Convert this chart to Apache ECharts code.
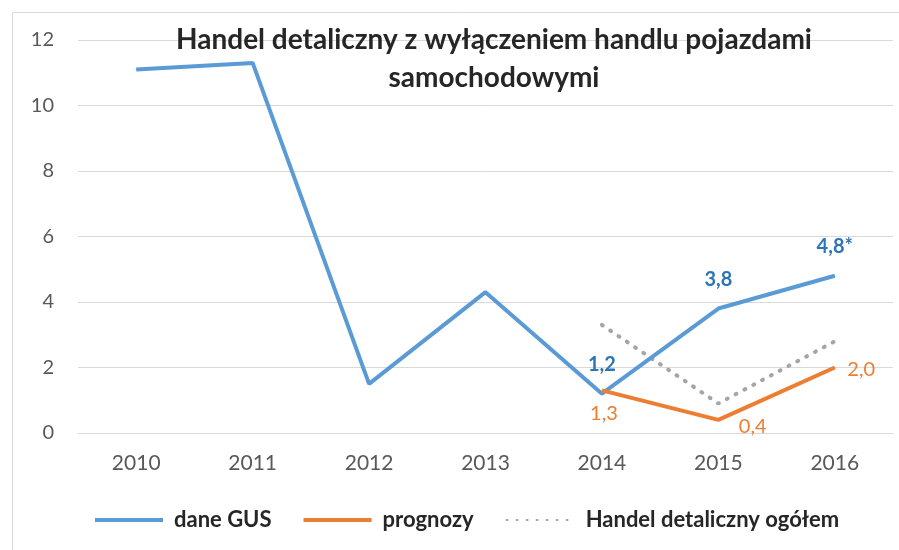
<!DOCTYPE html>
<html>
<head>
<meta charset="utf-8">
<script src="https://cdn.jsdelivr.net/npm/echarts@6/dist/echarts.min.js"></script>
<style>
  html, body { margin: 0; padding: 0; background: #fff; }
  #main { width: 899px; height: 550px; }
</style>
</head>
<body>
<div id="main"></div>
<script>
var years = ['2010', '2011', '2012', '2013', '2014', '2015', '2016'];
var daneGUS = [11.1, 11.3, 1.5, 4.3, 1.2, 3.8, 4.8];
var prognozy = [null, null, null, null, 1.3, 0.4, 2.0];
var ogolem = [null, null, null, null, 3.3, 0.9, 2.8];
// which blue points carry a label (and the asterisk on the last one)
var gusLabels = [null, null, null, null, '1,2', '3,8', '4,8*'];

var font = 'Lato, "Open Sans", sans-serif';

function fmt(v) {
    return v.toFixed(1).replace('.', ',');
}

var gusData = daneGUS.map(function (v, i) {
    if (!gusLabels[i]) return v;
    return {
        value: v,
        label: { show: true, position: 'top', distance: 19, formatter: gusLabels[i] }
    };
});

// label placement for the forecast points
var progPos = [null, null, null, null, ['bottom', 13, [2, 0]], ['right', 20, [0, 7]], ['right', 12, [0, 2]]];
var progData = prognozy.map(function (v, i) {
    if (v == null) return v;
    return {
        value: v,
        label: { show: true, position: progPos[i][0], distance: progPos[i][1], offset: progPos[i][2], formatter: fmt(v) }
    };
});

var myChart = echarts.init(document.getElementById('main'));
var option = {
    animation: false,
    textStyle: { fontFamily: font },
    title: {
        text: 'Handel detaliczny z wyłączeniem handlu pojazdami\nsamochodowymi',
        left: 489,
        textAlign: 'center',
        top: 16,
        textStyle: { fontFamily: font, fontSize: 28, fontWeight: 'bold', color: '#262626', lineHeight: 38 }
    },
    graphic: [{
        type: 'rect',
        shape: { x: 12.5, y: 12.5, width: 900, height: 560 },
        style: { fill: 'none', stroke: '#d9d9d9', lineWidth: 1 },
        silent: true
    }],
    legend: {
        top: 504,
        left: 90,
        itemWidth: 68,
        itemHeight: 4,
        itemGap: 32,
        textStyle: { fontFamily: font, fontSize: 22, fontWeight: 'bold', color: '#262626', padding: [0, 0, 0, 6] },
        data: [
            { name: 'dane GUS', icon: 'rect' },
            { name: 'prognozy', icon: 'rect' },
            { name: 'Handel detaliczny ogółem', itemStyle: { opacity: 0 } }
        ]
    },
    grid: { left: 78, right: 6, top: 40, bottom: 117 },
    xAxis: {
        type: 'category',
        data: years,
        boundaryGap: true,
        axisLine: { lineStyle: { color: '#d9d9d9' } },
        axisTick: { show: false },
        axisLabel: { fontFamily: font, fontSize: 21, color: '#595959', margin: 20 }
    },
    yAxis: {
        type: 'value',
        min: 0,
        max: 12,
        interval: 2,
        axisLine: { show: false },
        axisTick: { show: false },
        axisLabel: { fontFamily: font, fontSize: 20, color: '#595959', margin: 24 },
        splitLine: { lineStyle: { color: '#d9d9d9' } }
    },
    series: [
        {
            name: 'dane GUS',
            type: 'line',
            data: gusData,
            symbol: 'circle',
            symbolSize: 1,
            showSymbol: true,
            color: '#5b9bd5',
            lineStyle: { width: 4, color: '#5b9bd5' },
            label: { fontFamily: font, fontSize: 20, fontWeight: 'bold', color: '#2e75b6' },
            z: 3
        },
        {
            name: 'prognozy',
            type: 'line',
            data: progData,
            symbol: 'circle',
            symbolSize: 1,
            showSymbol: true,
            color: '#ed7d31',
            lineStyle: { width: 4, color: '#ed7d31' },
            label: { fontFamily: font, fontSize: 20, color: '#ed7d31' },
            z: 4
        },
        {
            name: 'Handel detaliczny ogółem',
            type: 'line',
            data: ogolem,
            symbol: 'none',
            color: '#a5a5a5',
            lineStyle: { width: 4, color: '#a5a5a5', type: [1, 9], cap: 'round' },
            z: 2
        }
    ]
};
myChart.setOption(option);
</script>
</body>
</html>
